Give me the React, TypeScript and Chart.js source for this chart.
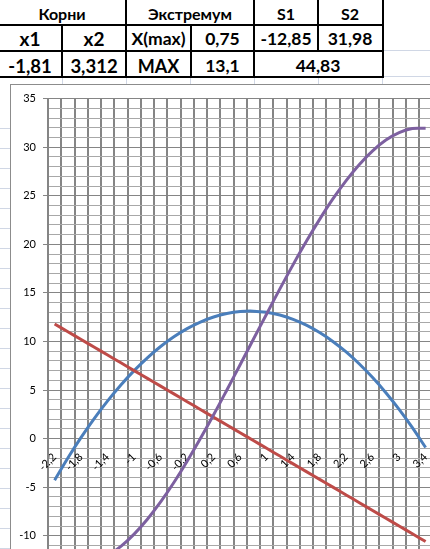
import React, { useEffect, useRef } from 'react';
import { Chart, registerables } from 'chart.js';

Chart.register(...registerables);

// ---- data ----
const xLabels = ['-2,2', '-2', '-1,8', '-1,6', '-1,4', '-1,2', '-1', '-0,8', '-0,6', '-0,4', '-0,2', '0', '0,2', '0,4', '0,6', '0,8', '1', '1,2', '1,4', '1,6', '1,8', '2', '2,2', '2,4', '2,6', '2,8', '3', '3,2', '3,4'];
const parabola = [-4.28, -2, 0.12, 2.08, 3.88, 5.52, 7, 8.32, 9.48, 10.48, 11.32, 12, 12.52, 12.88, 13.08, 13.12, 13, 12.72, 12.28, 11.68, 10.92, 10, 8.92, 7.68, 6.28, 4.72, 3, 1.12, -0.92];
const derivative = [11.8, 11, 10.2, 9.4, 8.6, 7.8, 7, 6.2, 5.4, 4.6, 3.8, 3, 2.2, 1.4, 0.6, -0.2, -1, -1.8, -2.6, -3.4, -4.2, -5, -5.8, -6.6, -7.4, -8.2, -9, -9.8, -10.6];
const integral = [-12.04, -12.67, -12.85, -12.63, -12.03, -11.09, -9.83, -8.3, -6.52, -4.52, -2.33, 0, 2.45, 5.0, 7.6, 10.22, 12.83, 15.41, 17.91, 20.31, 22.57, 24.67, 26.56, 28.22, 29.62, 30.73, 31.5, 31.92, 31.94];
const yMin = -15;
const yMax = 35;
const yMajorStep = 5;

// table texts
const headerRow = ['Корни', 'Экстремум', 'S1', 'S2'];
const secondRow = ['x1', 'x2', 'X(max)', '0,75', '-12,85', '31,98'];
const thirdRow = ['-1,81', '3,312', 'MAX', '13,1', '44,83'];

const COLS = [-2, 62, 126, 191, 254, 318, 382];
const ROWS = [0, 25, 51, 77];
const LIGHT = '#d0d7e5';
const FONT = 'Lato, "Open Sans", sans-serif';

function Cell({ left, right, center, text, size }: { left: number; right: number; center: number; text: string; size: number }) {
  return (
    <div
      style={{
        position: 'absolute',
        left,
        width: right - left,
        top: center - 12,
        height: 24,
        lineHeight: '24px',
        textAlign: 'center',
        fontFamily: FONT,
        fontWeight: 700,
        fontSize: size,
        color: '#000',
        whiteSpace: 'nowrap',
      }}
    >
      {text}
    </div>
  );
}

function Line({ x, y, w, h, c }: { x: number; y: number; w: number; h: number; c: string }) {
  return <div style={{ position: 'absolute', left: x, top: y, width: w, height: h, background: c }} />;
}

export default function App() {
  const ref = useRef<HTMLCanvasElement | null>(null);

  useEffect(() => {
    if (!ref.current) return;
    const tickFont = { family: FONT, size: 11 };
    const chart = new Chart(ref.current, {
      type: 'line',
      data: {
        labels: xLabels,
        datasets: [
          { data: integral, borderColor: '#7d60a0', borderWidth: 3, pointRadius: 0, tension: 0.4, fill: false },
          { data: derivative, borderColor: '#be4b48', borderWidth: 3, pointRadius: 0, tension: 0.4, fill: false },
          { data: parabola, borderColor: '#4a7ebb', borderWidth: 3, pointRadius: 0, tension: 0.4, fill: false },
        ],
      },
      options: {
        responsive: false,
        animation: false,
        events: [],
        layout: { padding: { left: 0, top: 13, right: 18.75, bottom: 20.7 } },
        plugins: { legend: { display: false }, tooltip: { enabled: false }, title: { display: false } },
        scales: {
          x: {
            type: 'category',
            position: { y: 0 } as any,
            offset: true,
            grid: { offset: true, color: '#858585', lineWidth: 2, drawTicks: false },
            border: { color: '#858585', width: 1 },
            ticks: {
              autoSkip: false,
              minRotation: 45,
              maxRotation: 45,
              padding: 12,
              color: '#000',
              font: tickFont,
              callback: (_v: any, i: number) => (i % 2 === 0 ? xLabels[i] : ''),
            },
          },
          y: {
            type: 'linear',
            min: yMin,
            max: yMax,
            afterFit: (s: any) => {
              s.width = 37;
            },
            grid: {
              color: (ctx: any) => (ctx.tick && ctx.tick.value % yMajorStep === 0 ? '#858585' : '#a8a8a8'),
              lineWidth: 1,
              tickLength: 5,
              tickColor: (ctx: any) => (ctx.tick && ctx.tick.value % yMajorStep === 0 ? '#858585' : 'rgba(0,0,0,0)'),
            },
            border: { color: '#858585', width: 1 },
            ticks: {
              stepSize: 1,
              maxTicksLimit: 100,
              autoSkip: false,
              padding: 7,
              color: '#000',
              font: tickFont,
              callback: (v: any) => (Number(v) % yMajorStep === 0 ? String(v) : ''),
            },
          },
        },
      } as any,
    });
    return () => chart.destroy();
  }, []);

  const leftGrid: number[] = [];
  for (let y = 127.5; y < 549; y += 20) leftGrid.push(y);

  return (
    <div style={{ position: 'fixed', left: 0, top: 0, width: 430, height: 549, overflow: 'hidden', background: '#fff' }}>
      {/* light spreadsheet gridlines */}
      <Line x={383} y={50} w={47} h={1} c={LIGHT} />
      <Line x={383} y={76} w={47} h={1} c={LIGHT} />
      {[62, 126, 190, 254, 318, 382].map((x) => (
        <Line key={'s' + x} x={x} y={78} w={1} h={6} c={LIGHT} />
      ))}
      {leftGrid.map((y) => (
        <Line key={'g' + y} x={0} y={Math.round(y)} w={10} h={1} c={LIGHT} />
      ))}

      {/* table borders */}
      <Line x={0} y={24} w={384} h={2} c="#000" />
      <Line x={0} y={50} w={384} h={2} c="#000" />
      <Line x={0} y={76} w={384} h={2} c="#000" />
      <Line x={125} y={0} w={2} h={78} c="#000" />
      <Line x={253} y={0} w={2} h={78} c="#000" />
      <Line x={317} y={0} w={2} h={52} c="#000" />
      <Line x={382} y={0} w={2} h={78} c="#000" />
      <Line x={61} y={24} w={2} h={54} c="#000" />
      <Line x={190} y={24} w={2} h={54} c="#000" />

      {/* header row */}
      <Cell left={COLS[0]} right={COLS[2]} center={13.5} text={headerRow[0]} size={16} />
      <Cell left={COLS[2]} right={COLS[4]} center={13.5} text={headerRow[1]} size={16} />
      <Cell left={COLS[4]} right={COLS[5]} center={13.5} text={headerRow[2]} size={16} />
      <Cell left={COLS[5]} right={COLS[6]} center={13.5} text={headerRow[3]} size={16} />

      {/* second row */}
      {secondRow.map((t, i) => (
        <Cell key={'r2' + i} left={COLS[i]} right={COLS[i + 1]} center={39} text={t} size={i < 2 ? 19 : 17.5} />
      ))}

      {/* third row */}
      <Cell left={COLS[0]} right={COLS[1]} center={65.5} text={thirdRow[0]} size={18.5} />
      <Cell left={COLS[1]} right={COLS[2]} center={65.5} text={thirdRow[1]} size={18.5} />
      <Cell left={COLS[2]} right={COLS[3]} center={65.5} text={thirdRow[2]} size={18} />
      <Cell left={COLS[3]} right={COLS[4]} center={65.5} text={thirdRow[3]} size={17.5} />
      <Cell left={COLS[4]} right={COLS[6]} center={65.5} text={thirdRow[4]} size={17.5} />

      {/* chart object */}
      <div
        style={{
          position: 'absolute',
          left: 10,
          top: 84,
          width: 460,
          height: 560,
          borderLeft: '1px solid #8c8c8c',
          borderTop: '1px solid #8c8c8c',
          background: '#fff',
        }}
      >
        <canvas ref={ref} width={440} height={520} style={{ display: 'block', width: 440, height: 520 }} />
      </div>
    </div>
  );
}
